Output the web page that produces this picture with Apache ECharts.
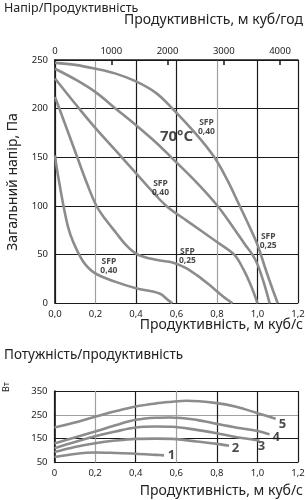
<!DOCTYPE html>
<html><head><meta charset="utf-8">
<script src="https://cdn.jsdelivr.net/npm/echarts@6/dist/echarts.min.js"></script>
<style>html,body{margin:0;padding:0;background:#fff}#c{width:308px;height:500px}</style>
</head><body><div id="c"></div>
<script>
// ---- top chart: pressure vs flow (x in m3/s, y in Pa)
const curveA = [[0,247],[0.1,245],[0.2,241],[0.3,236],[0.4,228],[0.5,216],[0.58,200],[0.7,173],[0.787,150],[0.85,127],[0.91,101],[0.96,79],[1.0,60],[1.04,35],[1.07,17],[1.10,0]];
const curveB = [[0,241],[0.1,230],[0.2,217],[0.3,200],[0.4,183],[0.5,165],[0.574,150],[0.7,124],[0.803,100],[0.88,78],[0.94,60],[0.975,50],[1.0,40],[1.03,22],[1.06,0]];
const curveC = [[0,231],[0.1,205],[0.2,180],[0.33,150],[0.45,122],[0.55,100],[0.65,85],[0.8,63],[0.885,50],[0.93,35],[0.97,17],[1.0,0]];
const curveD = [[0,212],[0.05,184],[0.11,150],[0.16,122],[0.205,100],[0.25,86],[0.303,72],[0.35,60],[0.4,51],[0.45,47],[0.516,44],[0.58,42],[0.64,37],[0.7,29],[0.762,19],[0.83,7],[0.877,0]];
const curveE = [[0,152],[0.008,140],[0.016,130],[0.041,101],[0.065,78],[0.09,63],[0.139,43],[0.197,31],[0.3,22],[0.4,15.4],[0.516,10],[0.56,3],[0.58,0]];
const topCurves = [curveA, curveB, curveC, curveD, curveE];
const topXTicks = [0, 0.2, 0.4, 0.6, 0.8, 1.0, 1.2];
const topYTicks = [0, 50, 100, 150, 200, 250];
const topX2Ticks = [0, 1000, 2000, 3000, 4000];
const topNotes = [
  {text:'70°C', x:0.60, y:171, big:true},
  {text:'SFP\n0,40', x:0.748, y:181},
  {text:'SFP\n0,40', x:0.521, y:118.5},
  {text:'SFP\n0,40', x:0.266, y:38.3},
  {text:'SFP\n0,25', x:0.654, y:48.6},
  {text:'SFP\n0,25', x:1.053, y:64}
];
// ---- bottom chart: power vs flow (W)
const power1 = [[0,73],[0.1,86],[0.2,92],[0.3,90],[0.4,87],[0.5,82],[0.54,80]];
const power2 = [[0,94],[0.1,115],[0.2,131],[0.3,142],[0.4,149],[0.5,150],[0.6,148],[0.7,138],[0.8,128],[0.86,120]];
const power3 = [[0,110],[0.1,136],[0.2,160],[0.3,180],[0.4,197],[0.5,201],[0.58,200],[0.7,187],[0.8,173],[0.88,159],[1.0,143],[1.01,140]];
const power4 = [[0,130],[0.1,155],[0.2,180],[0.3,206],[0.4,229],[0.5,238],[0.57,239],[0.7,229],[0.8,212],[0.9,196],[1.0,182],[1.06,168]];
const power5 = [[0,197],[0.1,218],[0.2,242],[0.3,265],[0.4,285],[0.5,298],[0.57,304],[0.65,309],[0.8,299],[0.9,283],[1.0,257],[1.09,234]];
const powerCurves = [power1, power2, power3, power4, power5];
const powerNames = ['1','2','3','4','5'];
const powerLabelPos = [[0.576,81.5],[0.892,109],[1.02,119],[1.093,157],[1.123,212]];
const botXTicks = [0, 0.2, 0.4, 0.6, 0.8, 1.0, 1.2];
const botYTicks = [50, 150, 250, 350];

const BLK = '#1a1a1a', GRY = '#a0a0a0', CURVE = '#8c8c8c', TXT = '#222';
const FONT = 'Noto Sans';
const fmtX = v => v.toFixed(1).replace('.', ',');

const chart = echarts.init(document.getElementById('c'), null, {renderer:'canvas'});
const lineBase = {showSymbol:false, smooth:0.35, lineStyle:{color:CURVE, width:2.6}, silent:true, z:3};
const topSeries = topCurves.map(d => Object.assign({type:'line', xAxisIndex:0, yAxisIndex:0, data:d}, lineBase));
const botSeries = powerCurves.map(d => Object.assign({type:'line', xAxisIndex:2, yAxisIndex:1, data:d}, lineBase));
const noteSeries = {
  type:'scatter', xAxisIndex:0, yAxisIndex:0, symbolSize:0, silent:true, z:5,
  data: topNotes.map(n => ({value:[n.x,n.y], label:{
    show:true, position:'inside', formatter:n.text,
    fontFamily:FONT, color:BLK,
    fontSize: n.big ? 15 : 8.5, fontWeight:'bold',
    lineHeight: n.big ? 16 : 9.5, align:'center', verticalAlign:'middle'
  }}))
};
const numSeries = {
  type:'scatter', xAxisIndex:2, yAxisIndex:1, symbolSize:0, silent:true, z:5,
  data: powerLabelPos.map((p,i) => ({value:p, label:{
    show:true, position:'inside', formatter:powerNames[i],
    fontFamily:FONT, color:BLK, fontSize:13, fontWeight:'bold'
  }}))
};

chart.setOption({
  animation:false,
  textStyle:{fontFamily:FONT},
  grid:[
    {left:55, right:10, top:60, height:243.3},
    {left:54.5, right:10, top:391, height:71.5}
  ],
  xAxis:[
    {gridIndex:0, type:'value', min:0, max:1.2, interval:0.2, position:'bottom',
     axisLine:{show:false}, axisTick:{show:false},
     axisLabel:{fontSize:9.5, color:TXT, margin:6, formatter:fmtX},
     splitLine:{show:true, showMinLine:true, showMaxLine:true,
       lineStyle:{width:1.2, color:[BLK,GRY,BLK,BLK,GRY,BLK,BLK]}}},
    {gridIndex:0, type:'value', min:0, max:4320, interval:1000, position:'top',
     axisLine:{show:true, lineStyle:{color:BLK, width:1.6}},
     axisTick:{show:true, inside:true, length:5, lineStyle:{color:BLK, width:1.5}},
     axisLabel:{fontSize:9.5, color:TXT, margin:4, showMaxLabel:false,
       formatter: v => (v % 1000 === 0 ? String(v) : '')},
     splitLine:{show:false}},
    {gridIndex:1, type:'value', min:0, max:1.2, interval:0.2, position:'bottom',
     axisLine:{show:false}, axisTick:{show:false},
     axisLabel:{fontSize:9.5, color:TXT, margin:6, formatter: v => v === 0 ? '0' : fmtX(v)},
     splitLine:{show:true, showMinLine:true, showMaxLine:true,
       lineStyle:{width:1.2, color:[BLK,GRY,BLK,GRY,BLK,BLK,BLK]}}}
  ],
  yAxis:[
    {gridIndex:0, type:'value', min:0, max:250, interval:50,
     axisLine:{show:true, lineStyle:{color:BLK, width:1.6}}, axisTick:{show:false},
     axisLabel:{fontSize:9.5, color:TXT, margin:7},
     splitLine:{show:true, showMinLine:true, showMaxLine:true, lineStyle:{width:1.2, color:BLK}}},
    {gridIndex:1, type:'value', min:50, max:350, interval:100,
     axisLine:{show:true, lineStyle:{color:BLK, width:1.6}}, axisTick:{show:false},
     axisLabel:{fontSize:9.5, color:TXT, margin:7},
     splitLine:{show:true, showMinLine:true, showMaxLine:true,
       lineStyle:{width:1.2, color:[BLK,BLK,GRY,BLK]}}}
  ],
  graphic:[
    {type:'text', left:4, top:2, style:{text:'Напір/Продуктивність', font:'12.5px "Noto Sans"', fill:TXT}},
    {type:'text', right:5, top:13, style:{text:'Продуктивність, м куб/год', font:'14px "Noto Sans"', fill:TXT}},
    {type:'text', right:5, top:318, style:{text:'Продуктивність, м куб/с', font:'14px "Noto Sans"', fill:TXT}},
    {type:'text', left:4, top:348, style:{text:'Потужність/продуктивність', font:'13.5px "Noto Sans"', fill:TXT}},
    {type:'text', right:5, top:484, style:{text:'Продуктивність, м куб/с', font:'14px "Noto Sans"', fill:TXT}},
    {type:'text', x:13, y:182, rotation:Math.PI/2, style:{text:'Загальний напір, Па', font:'14px "Noto Sans"', fill:TXT, align:'center', verticalAlign:'middle'}},
    {type:'text', x:6, y:387, rotation:Math.PI/2, style:{text:'Вт', font:'9px "Noto Sans"', fill:TXT, align:'center', verticalAlign:'middle'}}
  ],
  series:[...topSeries, ...botSeries, noteSeries, numSeries]
});
</script></body></html>
